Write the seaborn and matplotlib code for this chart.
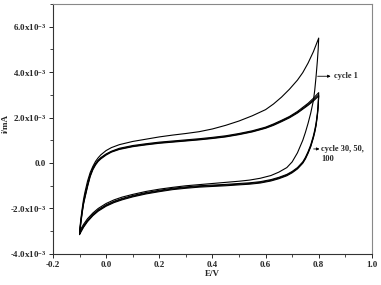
import numpy as np
import pandas as pd
import matplotlib
matplotlib.use('Agg')
import matplotlib.pyplot as plt
import seaborn as sns
from matplotlib.ticker import MultipleLocator, FixedLocator

# potential grids (V)
e_fwd = [-0.10, -0.095, -0.09, -0.085, -0.08, -0.07, -0.06, -0.05, -0.04, -0.03, -0.02, 0.00, 0.02,
         0.05, 0.10, 0.15, 0.20, 0.25, 0.30, 0.35, 0.40, 0.45, 0.50, 0.55, 0.60, 0.63, 0.66, 0.69,
         0.72, 0.74, 0.76, 0.78, 0.80]
e_rev = [0.80, 0.798, 0.795, 0.79, 0.785, 0.78, 0.77, 0.76, 0.75, 0.74, 0.72, 0.70, 0.68, 0.65,
         0.62, 0.58, 0.54, 0.50, 0.45, 0.40, 0.35, 0.30, 0.25, 0.20, 0.15, 0.10, 0.06, 0.03, 0.00,
         -0.03, -0.05, -0.07, -0.085, -0.10]

# currents, in units of 1e-3 mA
c1_fwd = [-3.0, -2.45, -2.0, -1.6, -1.3, -0.8, -0.42, -0.15, 0.07, 0.23, 0.36, 0.55, 0.68,
          0.81, 0.95, 1.05, 1.15, 1.23, 1.30, 1.38, 1.50, 1.66, 1.85, 2.08, 2.35, 2.6, 2.9, 3.25,
          3.65, 3.98, 4.4, 4.9, 5.5]
c1_rev = [5.5, 5.0, 4.5, 3.8, 3.2, 2.75, 2.2, 1.75, 1.35, 1.0, 0.45, 0.05, -0.2, -0.4,
          -0.55, -0.67, -0.75, -0.8, -0.85, -0.9, -0.95, -1.0, -1.07, -1.15, -1.25, -1.38, -1.5,
          -1.62, -1.78, -2.0, -2.2, -2.45, -2.7, -3.0]

c30_fwd = [-3.05, -2.55, -2.1, -1.72, -1.45, -0.95, -0.52, -0.22, -0.02, 0.13, 0.24, 0.40, 0.52,
           0.65, 0.77, 0.85, 0.92, 0.97, 1.02, 1.07, 1.13, 1.20, 1.30, 1.42, 1.58, 1.72, 1.88, 2.05,
           2.27, 2.45, 2.63, 2.85, 3.1]
c30_rev = [3.1, 2.6, 2.2, 1.75, 1.45, 1.2, 0.8, 0.5, 0.25, 0.05, -0.2, -0.37, -0.5, -0.63,
           -0.73, -0.82, -0.87, -0.9, -0.94, -0.97, -1.0, -1.05, -1.11, -1.2, -1.3, -1.43, -1.56,
           -1.68, -1.84, -2.06, -2.26, -2.52, -2.77, -3.05]

c50_fwd = [-3.1, -2.6, -2.15, -1.77, -1.5, -1.0, -0.56, -0.26, -0.05, 0.1, 0.21, 0.38, 0.5,
           0.62, 0.74, 0.82, 0.89, 0.94, 0.99, 1.04, 1.1, 1.17, 1.27, 1.39, 1.55, 1.69, 1.85, 2.02,
           2.23, 2.4, 2.58, 2.78, 3.0]
c50_rev = [3.0, 2.5, 2.12, 1.68, 1.38, 1.14, 0.75, 0.46, 0.21, 0.02, -0.23, -0.4, -0.53, -0.66,
           -0.76, -0.85, -0.9, -0.93, -0.97, -1.0, -1.03, -1.08, -1.14, -1.23, -1.33, -1.46, -1.59,
           -1.71, -1.87, -2.09, -2.29, -2.55, -2.8, -3.1]

c100_fwd = [-3.15, -2.65, -2.2, -1.82, -1.55, -1.05, -0.6, -0.3, -0.09, 0.07, 0.18, 0.35, 0.48,
            0.6, 0.72, 0.8, 0.87, 0.92, 0.97, 1.02, 1.08, 1.15, 1.25, 1.37, 1.53, 1.66, 1.82, 1.99,
            2.2, 2.37, 2.54, 2.73, 2.95]
c100_rev = [2.95, 2.45, 2.08, 1.64, 1.35, 1.11, 0.72, 0.43, 0.18, -0.01, -0.26, -0.43, -0.56, -0.69,
            -0.79, -0.88, -0.93, -0.96, -1.0, -1.03, -1.06, -1.11, -1.17, -1.26, -1.36, -1.49, -1.62,
            -1.74, -1.9, -2.12, -2.32, -2.58, -2.83, -3.15]

y_ticks = [-4e-3, -2e-3, 0.0, 2e-3, 4e-3, 6e-3]
y_tick_labels = [r'-4.0x10$^{-3}$', r'-2.0x10$^{-3}$', '0.0', r'2.0x10$^{-3}$',
                 r'4.0x10$^{-3}$', r'6.0x10$^{-3}$']

cycles = {'1': (c1_fwd, c1_rev), '30': (c30_fwd, c30_rev),
          '50': (c50_fwd, c50_rev), '100': (c100_fwd, c100_rev)}

frames = []
for name, (fwd, rev) in cycles.items():
    frames.append(pd.DataFrame({'E': e_fwd + e_rev,
                                'I': np.array(fwd + rev) * 1e-3,
                                'cycle': name}))
df = pd.concat(frames, ignore_index=True)

sns.set_style('ticks')
plt.rcParams['font.family'] = ['Liberation Serif', 'DejaVu Serif']
plt.rcParams['mathtext.fontset'] = 'custom'
plt.rcParams['mathtext.rm'] = 'Liberation Serif:bold'
plt.rcParams['mathtext.it'] = 'Liberation Serif:bold'

fig = plt.figure(figsize=(3.81, 2.85), dpi=100)
ax = fig.add_axes([0.139, 0.109, 0.837, 0.877])

for name in cycles:
    sub = df[df['cycle'] == name]
    sns.lineplot(data=sub, x='E', y='I', sort=False, estimator=None, color='black',
                 lw=0.8, ax=ax, legend=False)

ax.set_xlim(-0.2, 1.0)
ax.set_ylim(-4e-3, 7e-3)
ax.xaxis.set_major_locator(MultipleLocator(0.2))
ax.xaxis.set_minor_locator(MultipleLocator(0.1))
ax.yaxis.set_major_locator(FixedLocator(y_ticks))
ax.yaxis.set_minor_locator(MultipleLocator(1e-3))
ax.set_yticklabels(y_tick_labels)
ax.set_xticklabels([f'{v:.1f}' for v in ax.get_xticks()])
ax.tick_params(which='major', length=3, width=0.7, labelsize=6.5, pad=2)
ax.tick_params(which='minor', length=2, width=0.6)
for lbl in ax.get_xticklabels() + ax.get_yticklabels():
    lbl.set_fontweight('bold')

for side in ['left', 'bottom']:
    ax.spines[side].set_linewidth(0.8)
    ax.spines[side].set_color('#333333')
for side in ['top', 'right']:
    ax.spines[side].set_linewidth(0.8)
    ax.spines[side].set_color('#888888')

ax.set_xlabel('E/V', fontsize=6.5, fontweight='bold')
ax.set_ylabel('i/mA', fontsize=6.5, fontweight='bold')
ax.xaxis.set_label_coords(0.5, -0.066)
ax.yaxis.set_label_coords(-0.135, 0.52)

arrow = dict(arrowstyle='-|>', color='black', lw=0.6, mutation_scale=4, shrinkA=0, shrinkB=0)
ax.annotate('', xy=(0.845, 3.82e-3), xytext=(0.796, 3.82e-3), arrowprops=arrow)
ax.text(0.858, 3.82e-3, 'cycle 1', fontsize=6, fontweight='bold', va='center', ha='left')
ax.annotate('', xy=(0.803, 0.62e-3), xytext=(0.781, 0.62e-3), arrowprops=arrow)
ax.text(0.808, 0.62e-3, 'cycle 30, 50,', fontsize=6, fontweight='bold', va='center', ha='left')
ax.text(0.808, 0.18e-3, '100', fontsize=6, fontweight='bold', va='center', ha='left')

fig.savefig('out.png', dpi=100)
